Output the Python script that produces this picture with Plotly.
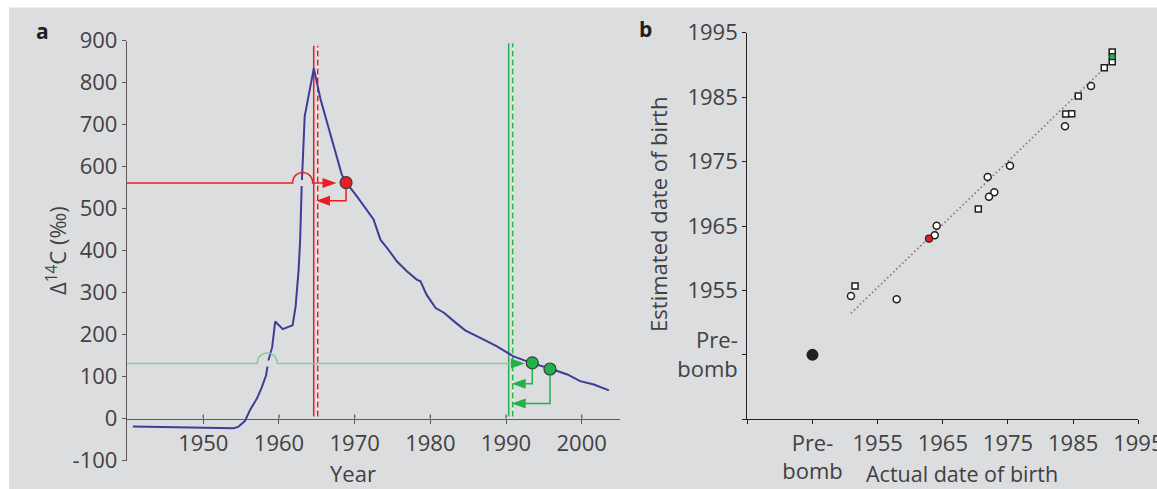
import plotly.graph_objects as go

W, H = 1157, 489
FONT = "Open Sans"
TXT = "#414042"
BG = "#dcdddf"
BLUE = "#3d3d96"
RED = "#ec1c24"
GREEN = "#22b14c"
GREEN_LIGHT = "#86cf92"
DARK = "#231f20"

# ---------------- Panel a data ----------------
curve_year = [1940.7, 1943.0, 1946.0, 1950.0, 1954.0, 1954.6, 1955.5, 1956.2, 1957.1, 1957.7,
              1958.3, 1958.6, 1959.1, 1959.5, 1960.5, 1961.5, 1961.8, 1962.2, 1962.6, 1962.8,
              1963.0, 1963.4, 1964.6, 1965.5, 1966.8, 1968.3, 1968.9, 1970.3, 1972.5, 1973.4,
              1974.3, 1975.6, 1976.9, 1978.2, 1978.7, 1979.5, 1980.7, 1981.8, 1983.1, 1984.6,
              1986.6, 1988.8, 1991.0, 1993.4, 1995.8, 1998.1, 1999.8, 2001.6, 2003.6]
curve_d14c = [-19, -20, -21, -22, -23, -20, -6, 21, 48, 73,
              103, 138, 170, 231, 213, 220, 222, 267, 355, 426,
              553, 720, 834, 760, 676, 581, 562, 529, 474, 426,
              406, 374, 351, 331, 327, 295, 263, 252, 232, 210,
              192, 172, 148, 132, 119, 105, 89, 81, 67]

red_sample_year = [1968.86]
red_sample_d14c = [562]
green_sample_year = [1993.47, 1995.81]
green_sample_d14c = [132.5, 118]

red_level = 561
green_level = 131
red_cross_year = 1963.13
green_cross_year = 1958.45
red_forward_tip = 1967.6
green_forward_tip = 1992.5
red_return_levels = [519]
green_return_levels = [82.6, 35.7]
red_return_tip = 1964.89
green_return_tip = 1990.75
red_vlines = [1964.59, 1965.12]
green_vlines = [1990.35, 1990.88]
red_vline_top = 888
green_vline_top = 894
vline_bottom = 5

a_xticks = [1950, 1960, 1970, 1980, 1990, 2000]
a_yticks = [-100, 0, 100, 200, 300, 400, 500, 600, 700, 800, 900]

# ---------------- Panel b data ----------------
circle_actual = [1987.74, 1983.75, 1975.31, 1971.89, 1972.90, 1972.09, 1964.06, 1963.76, 1950.91, 1957.92]
circle_est = [1986.73, 1980.48, 1974.36, 1972.61, 1970.23, 1969.55, 1965.05, 1963.56, 1954.14, 1953.62]
square_actual = [1991.0, 1991.0, 1989.78, 1985.79, 1983.86, 1984.78, 1970.45, 1951.53]
square_est = [1992.0, 1990.5, 1989.57, 1985.18, 1982.39, 1982.43, 1967.64, 1955.69]
red_b_actual = [1962.88]
red_b_est = [1963.03]
green_b_actual = [1991.0]
green_b_est = [1991.3]
prebomb_actual = [1945]
prebomb_est = [1945]
fit_actual = [1950.9, 1990.8]
fit_est = [1951.45, 1990.5]
b_tickvals = [1935, 1945, 1955, 1965, 1975, 1985, 1995]
b_ticktext = ["", "Pre-<br>bomb", "1955", "1965", "1975", "1985", "1995"]

# ---------------- Layout frame (pixels) ----------------
AX0, AX1 = 127, 620
AY_TOP, AY_BOT = 40.7, 460.5
XA_RANGE = [1939.92, 2005.06]
YA_RANGE = [-100, 900]
X0_PX_LINE = 419
BX0, BX1 = 747.3, 1138.3
BY_TOP, BY_BOT = 32.7, 419.3

pxa = (AX1 - AX0) / (XA_RANGE[1] - XA_RANGE[0])
pya = (AY_BOT - AY_TOP) / (YA_RANGE[1] - YA_RANGE[0])


def px(x):
    return x / W


def py(y):
    return 1 - y / H


fig = go.Figure()

fig.add_trace(go.Scatter(x=curve_year, y=curve_d14c, mode="lines",
                         line=dict(color=BLUE, width=2), xaxis="x", yaxis="y",
                         showlegend=False, hoverinfo="skip"))
fig.add_trace(go.Scatter(x=red_sample_year, y=red_sample_d14c, mode="markers",
                         marker=dict(size=12, color=RED, line=dict(color="#3a3a3a", width=1.2)),
                         xaxis="x", yaxis="y", showlegend=False))
fig.add_trace(go.Scatter(x=green_sample_year, y=green_sample_d14c, mode="markers",
                         marker=dict(size=12, color=GREEN, line=dict(color="#3a3a3a", width=1.2)),
                         xaxis="x", yaxis="y", showlegend=False))

# panel b
fig.add_trace(go.Scatter(x=fit_actual, y=fit_est, mode="lines",
                         line=dict(color="#7a7a7a", width=1.6, dash="1.6px,2.6px"),
                         xaxis="x2", yaxis="y2", showlegend=False))
fig.add_trace(go.Scatter(x=prebomb_actual, y=prebomb_est, mode="markers",
                         marker=dict(size=12, color=DARK), xaxis="x2", yaxis="y2", showlegend=False))
fig.add_trace(go.Scatter(x=circle_actual, y=circle_est, mode="markers",
                         marker=dict(size=7, symbol="circle", color="white", line=dict(color=DARK, width=1.5)),
                         xaxis="x2", yaxis="y2", showlegend=False))
fig.add_trace(go.Scatter(x=square_actual, y=square_est, mode="markers",
                         marker=dict(size=6, symbol="square", color="white", line=dict(color=DARK, width=1.5)),
                         xaxis="x2", yaxis="y2", showlegend=False))
fig.add_trace(go.Scatter(x=red_b_actual, y=red_b_est, mode="markers",
                         marker=dict(size=7, color=RED, line=dict(color=DARK, width=1.2)),
                         xaxis="x2", yaxis="y2", showlegend=False))
fig.add_trace(go.Scatter(x=green_b_actual, y=green_b_est, mode="markers",
                         marker=dict(size=6, symbol="square", color=GREEN, line=dict(color=DARK, width=1.2)),
                         xaxis="x2", yaxis="y2", showlegend=False))

shapes = []
# background panel
shapes.append(dict(type="rect", xref="paper", yref="paper", x0=px(9), x1=1, y0=0, y1=py(7.5),
                   fillcolor=BG, line=dict(width=0), layer="below"))

# upward half of crossing ticks on panel a x axis
for t in a_xticks:
    shapes.append(dict(type="line", xref="x", yref="y", x0=t, x1=t, ysizemode="pixel", yanchor=0,
                       y0=0, y1=4, line=dict(color="#5a5a5a", width=1.3), layer="above"))

# vertical lines
for xs, col, top in ((red_vlines, RED, red_vline_top), (green_vlines, GREEN, green_vline_top)):
    shapes.append(dict(type="line", xref="x", yref="y", x0=xs[0], x1=xs[0], y0=vline_bottom, y1=top,
                       line=dict(color=col, width=1.5), layer="between"))
    shapes.append(dict(type="line", xref="x", yref="y", x0=xs[1], x1=xs[1], y0=vline_bottom, y1=top,
                       line=dict(color="#f4f4f4", width=1.5), layer="between"))
    shapes.append(dict(type="line", xref="x", yref="y", x0=xs[1], x1=xs[1], y0=vline_bottom, y1=top,
                       line=dict(color=col, width=1.5, dash="6px,3px"), layer="between"))


def pixel_path(xa, ya, path, color, width=1.5, fill=None, layer="above"):
    d = dict(type="path", xref="x", yref="y", xsizemode="pixel", ysizemode="pixel",
             xanchor=xa, yanchor=ya, path=path, line=dict(color=color, width=width), layer=layer)
    if fill:
        d["fillcolor"] = fill
        d["line"] = dict(width=0)
    return d


# forward lines with jump arcs
for cross, level, tip, col, arrow_col in ((red_cross_year, red_level, red_forward_tip, RED, RED),
                                          (green_cross_year, green_level, green_forward_tip, GREEN_LIGHT, GREEN)):
    left = -(cross - XA_RANGE[0]) * pxa
    right = (tip - cross) * pxa - 13
    shapes.append(pixel_path(cross, level, "M-3,-3 L3,-3 L3,3 L-3,3 Z", BG, fill=BG))
    shapes.append(pixel_path(cross, level,
                             f"M{left:.2f},0 L-10,0 C-10,14 10,14 10,0 L{right:.2f},0", col, 1.5))
    shapes.append(pixel_path(tip, level, "M0,0 L-14,5 L-14,-5 Z", arrow_col, fill=arrow_col))

# return paths with arrows
for sx, sy, levels, tip, col in ((red_sample_year, red_sample_d14c, red_return_levels, red_return_tip, RED),
                                 (green_sample_year, green_sample_d14c, green_return_levels, green_return_tip, GREEN)):
    for x, y, lev in zip(sx, sy, levels):
        dy = -(y - lev) * pya
        dx = (tip - x) * pxa + 13
        shapes.append(pixel_path(x, y, f"M0,-5 L0,{dy:.2f} L{dx:.2f},{dy:.2f}", col, 1.5, layer="between"))
        shapes.append(pixel_path(tip, lev, "M0,0 L14,5 L14,-5 Z", col, fill=col))

tickfont = dict(family=FONT, size=22, color=TXT)

ann = []


def add_text(text, x, y, size=22, bold=False, angle=0, color=TXT):
    if bold:
        text = f"<b>{text}</b>"
    ann.append(dict(text=text, x=px(x), y=py(y), xref="paper", yref="paper", showarrow=False,
                    xanchor="center", yanchor="middle", textangle=angle,
                    font=dict(family=FONT, size=size, color=color)))


add_text("a", 42, 30.5, size=21, bold=True, color=DARK)
add_text("b", 645.7, 29.5, size=21, bold=True, color=DARK)
add_text("Year", 352.5, 473.2)
add_text("Actual date of birth", 961.7, 473.5, size=21.5)
add_text("Δ<sup>14</sup>C (‰)", 56.5, 250.5, angle=-90)
add_text("Estimated date of birth", 657.7, 214.2, angle=-90)

axis_common = dict(showgrid=False, zeroline=False, ticks="outside", ticklen=4, tickwidth=1.3,
                   tickfont=tickfont, showline=True, linewidth=1.3, automargin=False,
                   ticklabeloverflow="allow")

fig.update_layout(
    width=W, height=H, margin=dict(l=0, r=0, t=0, b=0, pad=0, autoexpand=False),
    paper_bgcolor="white", plot_bgcolor="rgba(0,0,0,0)",
    showlegend=False,
    xaxis=dict(domain=[px(AX0), px(AX1)], range=XA_RANGE, anchor="free", position=py(X0_PX_LINE),
               tickvals=a_xticks, linecolor="#5a5a5a", tickcolor="#5a5a5a", **axis_common),
    yaxis=dict(domain=[py(AY_BOT), py(AY_TOP)], range=YA_RANGE, anchor="x",
               tickvals=a_yticks, ticktext=[str(v) for v in a_yticks],
               linecolor="#5a5a5a", tickcolor="#5a5a5a", **axis_common),
    xaxis2=dict(domain=[px(BX0), px(BX1)], range=[1935, 1995], anchor="y2",
                tickvals=b_tickvals, ticktext=b_ticktext, linecolor=DARK, tickcolor=DARK, **axis_common),
    yaxis2=dict(domain=[py(BY_BOT), py(BY_TOP)], range=[1935, 1995], anchor="x2",
                tickvals=b_tickvals, ticktext=b_ticktext, linecolor=DARK, tickcolor=DARK, **axis_common),
    shapes=shapes,
    annotations=ann,
)

fig.write_html("out.html")
